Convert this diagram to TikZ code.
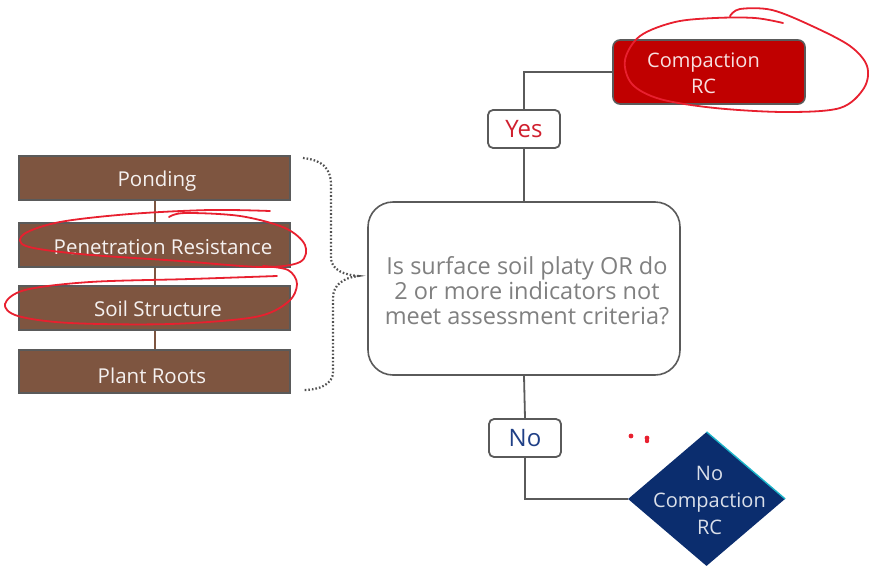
\documentclass[tikz,border=0pt]{standalone}
\usepackage{fontspec}
\setmainfont{Open Sans}
\usetikzlibrary{shapes.geometric}
\definecolor{soil}{HTML}{7E5540}
\definecolor{edgegray}{HTML}{5A5A5A}
\definecolor{rcred}{HTML}{C00000}
\definecolor{yesred}{HTML}{D01F2E}
\definecolor{nonavy}{HTML}{0B2D6E}
\definecolor{noblue}{HTML}{1F3F86}
\definecolor{inkred}{HTML}{E8202F}
\definecolor{edgecyan}{HTML}{1AB3C8}
\tikzset{
  soilbox/.style={draw=edgegray, line width=1.6pt, fill=soil, text=white!92!soil,
    minimum width=271pt, minimum height=44pt, inner sep=0pt,
    font=\fontsize{20.5}{24}\selectfont},
  soiltext/.style={text=white!92!soil, font=\fontsize{20.5}{24}\selectfont, inner sep=0pt},
  link/.style={draw=edgegray, line width=1.8pt},
  soillink/.style={draw=soil, line width=2pt},
  answer/.style={draw=edgegray, line width=1.8pt, fill=white, rounded corners=5pt,
    minimum width=72pt, minimum height=38pt, inner sep=0pt, font=\fontsize{24}{28}\selectfont},
  ink/.style={draw=inkred, line width=1.8pt, line cap=round, line join=round},
  bracket/.style={draw=edgegray!90!black, line width=2.2pt, dash pattern=on 1.6pt off 2pt}
}
\begin{document}
\begin{tikzpicture}[x=1pt,y=-1pt]
\useasboundingbox (0,0) rectangle (877,573);

% indicator stack
\node[soilbox] (pond) at (154.5,178) {};
\node[soilbox] (pen)  at (154.5,245) {};
\node[soilbox] (struct) at (154.5,308) {};
\node[soilbox, minimum height=43pt] (roots) at (154.5,371.5) {};
\node[soiltext] (pondtxt) at (157,181) {Ponding};
\node[soiltext] (pentxt) at (163,247.5) {Penetration Resistance};
\node[soiltext] (structtxt) at (158,308.5) {Soil Structure};
\node[soiltext] (rootstxt) at (152,375.5) {Plant Roots};
\draw[soillink] (pond.south) -- (pen.north);
\draw[soillink] (pen.south) -- (struct.north);
\draw[soillink] (struct.south) -- (roots.north);

% dotted curly brace grouping the indicators
\draw[bracket] (303,158) .. controls (322,160) and (331,168) .. (331,185)
  -- (331,258) .. controls (331,270) and (345,275) .. (358,276)
  .. controls (343,278) and (333,285) .. (333,298)
  -- (333,372) .. controls (333,384) and (320,390) .. (303,390);

% decision box
\node[draw=edgegray, line width=1.6pt, rounded corners=25pt, fill=white,
  minimum width=312pt, minimum height=173pt, inner sep=0pt] (q) at (524,288.5) {};
\node[align=center, inner sep=0pt, text=black!50,
  font=\fontsize{23.5}{25}\selectfont] (qtxt) at (527,291)
  {Is surface soil platy OR do\\2 or more indicators not\\meet assessment criteria?};
\draw[draw=edgegray, line width=2.6pt] (680,252) -- (680,300);

% outcomes
\node[answer, text=yesred] (yes) at (524,129) {Yes};
\node[answer, text=noblue] (no) at (525,438) {No};
\node[draw=edgegray, line width=1.6pt, fill=rcred, rounded corners=7pt,
  minimum width=192pt, minimum height=64pt, inner sep=0pt] (comp) at (709,72) {};
\node[align=center, inner sep=0pt, text=white!88!rcred,
  font=\fontsize{20}{26}\selectfont] (comptxt) at (703.5,73) {Compaction\\RC};
\node[diamond, fill=nonavy, minimum width=157pt, minimum height=134pt,
  inner sep=0pt] (dia) at (706.5,499) {};
\draw[edgecyan, line width=1.4pt] (dia.north) -- (dia.east);
\node[align=center, inner sep=0pt, text=white!85!nonavy,
  font=\fontsize{20}{27}\selectfont] (diatxt) at (709.5,500) {No\\Compaction\\RC};

\draw[link] (q.north) -- (yes.south);
\draw[link] (yes.north) |- (comp.west);
\draw[link] (q.south) -- (no.north);
\draw[link] (no.south) |- (dia.west);

% red pen marks
\draw[ink] plot[smooth, tension=0.55] coordinates {
  (783,23) (755,18) (715,18) (675,22) (640,36) (625,60) (632,84) (660,99)
  (715,108) (785,112) (840,108) (864,88) (867,66) (850,46) (812,26) (772,10)
  (740,9) (730,16)};
\draw[ink] plot[smooth, tension=0.55] coordinates {
  (270,211) (210,210) (130,214) (60,222) (24,234) (26,246) (80,254) (180,261)
  (262,267) (300,262) (305,245) (285,228) (240,216) (185,213) (169,217)};
\draw[ink] plot[smooth, tension=0.55] coordinates {
  (277,276) (190,279) (90,282) (25,290) (5,304) (18,316) (70,323) (170,324)
  (255,317) (288,302) (297,284) (288,270) (263,266)};
\fill[inkred] (631,436) circle (2.4pt);
\fill[inkred] (647,438) circle (2.4pt);
\fill[inkred] (647,441) circle (2.2pt);
\end{tikzpicture}
\end{document}
